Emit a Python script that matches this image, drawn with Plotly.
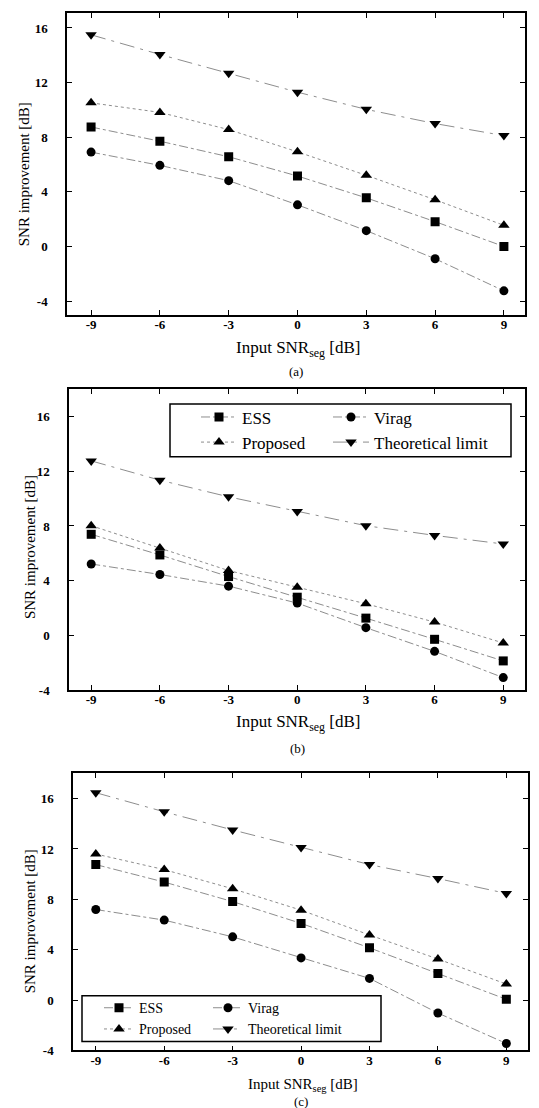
import plotly.graph_objects as go

W, H = 539, 1108
snr_in = [-9, -6, -3, 0, 3, 6, 9]
x_ticks = [-9, -6, -3, 0, 3, 6, 9]
x_ticktext = ["-9", "-6", "-3", "0", "3", "6", "9"]
y_ticks = [-4, 0, 4, 8, 12, 16]
y_ticktext = ["-4", "0", "4", "8", "12", "16"]

# Panel (a)
a_ess = [8.75, 7.71, 6.57, 5.16, 3.56, 1.82, 0.0]
a_virag = [6.91, 5.94, 4.82, 3.05, 1.16, -0.9, -3.25]
a_prop = [10.52, 9.82, 8.56, 6.93, 5.21, 3.42, 1.55]
a_theo = [15.5, 14.06, 12.68, 11.3, 10.04, 9.0, 8.12]
# Panel (b)
b_ess = [7.39, 5.88, 4.30, 2.79, 1.26, -0.29, -1.87]
b_virag = [5.22, 4.45, 3.6, 2.36, 0.56, -1.17, -3.09]
b_prop = [8.02, 6.39, 4.74, 3.52, 2.31, 0.97, -0.56]
b_theo = [12.76, 11.35, 10.13, 9.06, 8.02, 7.31, 6.68]
# Panel (c)
c_ess = [10.76, 9.37, 7.82, 6.09, 4.15, 2.11, 0.06]
c_virag = [7.19, 6.35, 5.02, 3.35, 1.72, -1.03, -3.45]
c_prop = [11.6, 10.36, 8.84, 7.14, 5.17, 3.26, 1.27]
c_theo = [16.47, 14.95, 13.51, 12.12, 10.76, 9.65, 8.47]

names = ["ESS", "Virag", "Proposed", "Theoretical limit"]
symbols = ["square", "circle", "triangle-up", "triangle-down"]
dashes = ["dashdot", "dashdot", "dot", "longdashdot"]
FONT = "Liberation Serif"

fig = go.Figure()

panels = [
    ("x", "y", [a_ess, a_virag, a_prop, a_theo], None),
    ("x2", "y2", [b_ess, b_virag, b_prop, b_theo], ("legend", "legend2")),
    ("x3", "y3", [c_ess, c_virag, c_prop, c_theo], ("legend3", "legend4")),
]
for xa, ya, series, legs in panels:
    for i, vals in enumerate(series):
        kw = {}
        if legs is None:
            kw["showlegend"] = False
        else:
            kw["showlegend"] = True
            kw["legend"] = legs[0] if i in (0, 2) else legs[1]
        fig.add_trace(go.Scatter(
            x=snr_in, y=vals, name=names[i], mode="lines+markers",
            xaxis=xa, yaxis=ya,
            line=dict(color="#808080", width=0.9, dash=dashes[i]),
            marker=dict(symbol=symbols[i], color="black", size=9 if i < 2 else 10),
            **kw))

def px_x(p):
    return p / W

def px_y(p):
    return 1 - p / H

axis_common = dict(showline=True, linecolor="black", linewidth=1.5, mirror="allticks",
                   ticks="inside", ticklen=5, tickwidth=1.2, tickcolor="black",
                   showgrid=False, zeroline=False,
                   tickfont=dict(family=FONT, size=13, color="black", weight="bold"))

doms = [
    ((59, 517), (5, 309), (-10.05, 9.92), (-5, 17.1)),
    ((61, 517), (384, 687), (-9.97, 9.95), (-4, 18)),
    ((65, 520), (771, 1050), (-10.0, 9.95), (-4.0, 18)),
]
layout = {}
for k, (xd, yd, xr, yr) in enumerate(doms):
    sfx = "" if k == 0 else str(k + 1)
    layout["xaxis" + sfx] = dict(axis_common, domain=[px_x(xd[0]), px_x(xd[1])], range=list(xr),
                                 tickvals=x_ticks, ticktext=x_ticktext,
                                 anchor="y" + sfx, ticklabelstandoff=-3)
    layout["yaxis" + sfx] = dict(axis_common, domain=[px_y(yd[1]), px_y(yd[0])], range=list(yr),
                                 tickvals=y_ticks, ticktext=y_ticktext,
                                 anchor="x" + sfx, ticklabelstandoff=15)

leg_common = dict(orientation="v", xanchor="left", yanchor="middle",
                  bgcolor="rgba(0,0,0,0)", borderwidth=0)
layout["legend"] = dict(leg_common, x=px_x(188), y=px_y(425), itemwidth=36,
                        font=dict(family=FONT, size=17, color="black"))
layout["legend2"] = dict(leg_common, x=px_x(320), y=px_y(425), itemwidth=36,
                         font=dict(family=FONT, size=17, color="black"))
layout["legend3"] = dict(leg_common, x=px_x(91), y=px_y(1018), itemwidth=30,
                         font=dict(family=FONT, size=14, color="black"))
layout["legend4"] = dict(leg_common, x=px_x(200), y=px_y(1018), itemwidth=30,
                         font=dict(family=FONT, size=14, color="black"))

shapes = [
    dict(type="rect", xref="paper", yref="paper", x0=px_x(162), x1=px_x(503),
         y0=px_y(452), y1=px_y(399), line=dict(color="black", width=1.5), layer="above"),
    dict(type="rect", xref="paper", yref="paper", x0=px_x(74), x1=px_x(373),
         y0=px_y(1041), y1=px_y(995), line=dict(color="black", width=1.5), layer="above"),
]

ytitle = "SNR improvement [dB]"
xtitle = "Input SNR<sub>seg</sub> [dB]"
ann = []
for (yx, yy, ys, xx, xy, xs, lx, ly, lab) in [
    (16, 167.5, 15, 290, 343, 17, 288, 366, "(a)"),
    (22, 543, 15, 290, 720, 17, 289, 746, "(b)"),
    (22, 920, 15, 294.5, 1085, 15, 293, 1101, "(c)"),
]:
    ann.append(dict(text=ytitle, x=px_x(yx), y=px_y(yy), xref="paper", yref="paper",
                    textangle=-90, showarrow=False, xanchor="center", yanchor="middle",
                    font=dict(family=FONT, size=ys, color="black")))
    ann.append(dict(text=xtitle, x=px_x(xx), y=px_y(xy), xref="paper", yref="paper",
                    showarrow=False, xanchor="center", yanchor="middle",
                    font=dict(family=FONT, size=xs, color="black")))
    ann.append(dict(text=lab, x=px_x(lx), y=px_y(ly), xref="paper", yref="paper",
                    showarrow=False, xanchor="center", yanchor="middle",
                    font=dict(family=FONT, size=13, color="black")))

fig.update_layout(width=W, height=H, margin=dict(l=0, r=0, t=0, b=0),
                  font=dict(family=FONT, color="black"),
                  paper_bgcolor="white", plot_bgcolor="white",
                  shapes=shapes, annotations=ann, **layout)
fig.write_html("out.html")
